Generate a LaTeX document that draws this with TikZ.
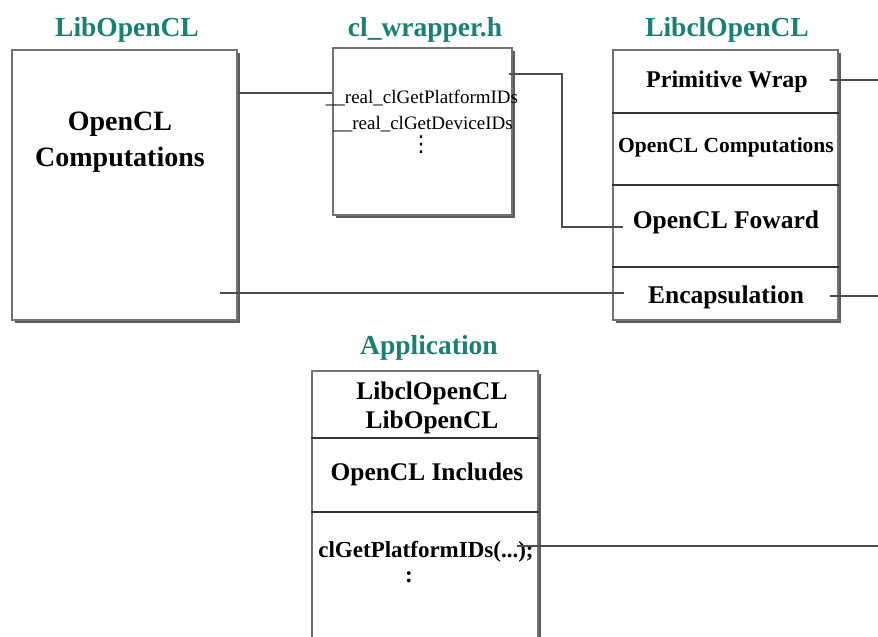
\documentclass[tikz,border=0pt]{standalone}
\usepackage{fontspec}
\setmainfont{Liberation Serif}
\newfontfamily\symfont{DejaVu Sans}
\usetikzlibrary{shadows}
\definecolor{titlecol}{HTML}{1B7F72}
\begin{document}
\begin{tikzpicture}[x=1pt,y=-1pt,
  title/.style={text=titlecol, inner sep=0pt, font=\bfseries\fontsize{27.5}{30}\selectfont},
  frame/.style={draw=black!55, line width=1.4pt, fill=white, inner sep=0pt,
    drop shadow={shadow xshift=2.5pt, shadow yshift=-2.5pt, opacity=0.85, fill=black!75}},
  rule/.style={draw=black!80, line width=1.3pt},
  wire/.style={draw=black!70, line width=1.5pt},
  lbl/.style={inner sep=0pt, align=center},
]
\useasboundingbox (0,0) rectangle (878,637);
\clip (0,0) rectangle (878,637);
\fill[white] (0,0) rectangle (878,637);

% titles
\node[title] (tLib)  at (127,30)  {LibOpenCL};
\node[title] (tWrap) at (425,30)  {cl\_wrapper.h};
\node[title] (tCl)   at (727,30)  {LibclOpenCL};
\node[title] (tApp)  at (429,348) {Application};

% LibOpenCL box
\node[frame, minimum width=225pt, minimum height=270pt] (lib) at (124.5,185) {};
\node[lbl, font=\bfseries\fontsize{28}{36}\selectfont] (libtxt) at (120,142) {OpenCL\\Computations};

% cl_wrapper.h box
\node[frame, minimum width=179pt, minimum height=167pt] (wrap) at (422.5,131.5) {};
\node[lbl, font=\fontsize{19}{19}\selectfont] (wplat) at (422,98) {\_\_real\_clGetPlatformIDs};
\node[lbl, font=\fontsize{19}{19}\selectfont] (wdev)  at (423,124) {\_\_real\_clGetDeviceIDs};
\node[lbl, font=\symfont\fontsize{22}{22}\selectfont] (wdots) at (421,145) {⋮};

% LibclOpenCL box
\node[frame, minimum width=225pt, minimum height=270pt] (cl) at (725.5,185) {};
\draw[rule] (cl.west |- 0,113) -- (cl.east |- 0,113);
\draw[rule] (cl.west |- 0,185) -- (cl.east |- 0,185);
\draw[rule] (cl.west |- 0,267) -- (cl.east |- 0,267);
\node[lbl, font=\bfseries\fontsize{24}{24}\selectfont]   (prim) at (727,82)  {Primitive Wrap};
\node[lbl, font=\bfseries\fontsize{21.5}{21.5}\selectfont] (comp) at (726,147) {OpenCL Computations};
\node[lbl, font=\bfseries\fontsize{25.5}{25.5}\selectfont] (fwd)  at (726,222) {OpenCL Foward};
\node[lbl, font=\bfseries\fontsize{25.5}{25.5}\selectfont] (enc)  at (726,297) {Encapsulation};

% Application box (runs past the lower edge)
\node[frame, minimum width=226pt, minimum height=300pt] (app) at (425,521) {};
\draw[rule] (app.west |- 0,438) -- (app.east |- 0,438);
\draw[rule] (app.west |- 0,512) -- (app.east |- 0,512);
\node[lbl, font=\bfseries\fontsize{25.4}{29.5}\selectfont] (alibs) at (432,408) {LibclOpenCL\\LibOpenCL};
\node[lbl, font=\bfseries\fontsize{25.4}{25.4}\selectfont] (ainc) at (427,474) {OpenCL Includes};
\node[lbl, font=\bfseries\fontsize{23}{23}\selectfont] (acall) at (426,552) {clGetPlatformIDs(...);};
\node[lbl, font=\bfseries\fontsize{23}{23}\selectfont] (acont) at (409,577) {:};

% connectors
\coordinate (yTop) at (0,93);
\draw[wire] (lib.east |- yTop) -- (wrap.west |- yTop);

\coordinate (wOut) at (509,74);
\coordinate (bend) at (562,150);
\coordinate (fIn)  at (623,227);
\draw[wire] (wOut) -| (bend) |- (fIn);

\coordinate (encL) at (220,293);
\coordinate (encR) at (624,293);
\draw[wire] (encL) -- (encR);

\coordinate (pOut) at (830,80);
\coordinate (pEnd) at (878,80);
\draw[wire] (pOut) -- (pEnd);

\coordinate (eOut) at (830,296);
\coordinate (eEnd) at (878,296);
\draw[wire] (eOut) -- (eEnd);

\coordinate (cOut) at (517,546);
\coordinate (cEnd) at (878,546);
\draw[wire] (cOut) -- (cEnd);
\end{tikzpicture}
\end{document}
